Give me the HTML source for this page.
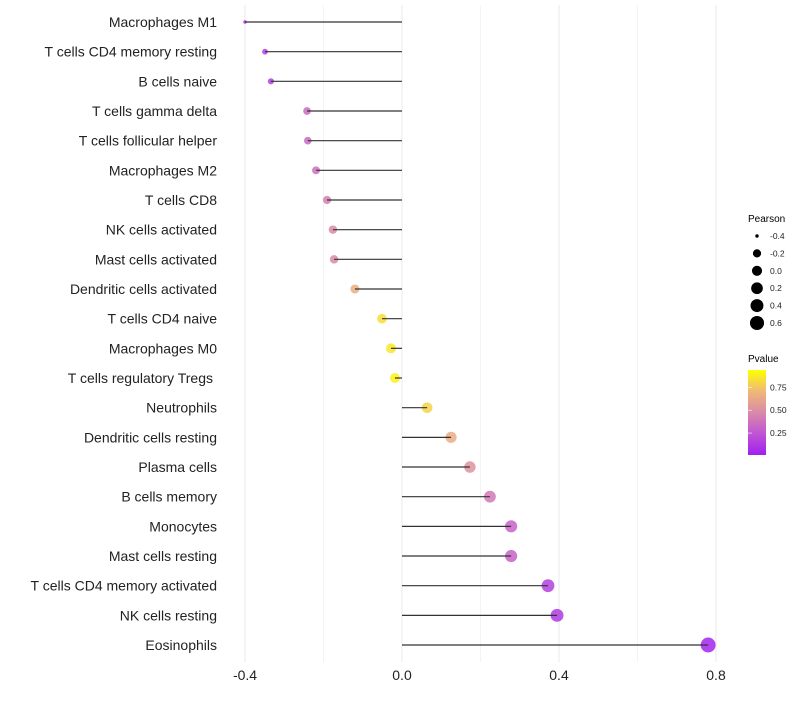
<!DOCTYPE html>
<html><head><meta charset="utf-8"><style>
body{margin:0;background:#fff}
svg text{font-family:"Liberation Sans",sans-serif}
</style></head><body>
<svg id="chart" width="800" height="700" xmlns="http://www.w3.org/2000/svg">
<defs><linearGradient id="pg" x1="0" y1="1" x2="0" y2="0">
<stop offset="0" stop-color="#a020f0"/><stop offset="0.25" stop-color="#c054d4"/><stop offset="0.5" stop-color="#d98aa8"/><stop offset="0.75" stop-color="#f0b878"/><stop offset="1" stop-color="#ffff00"/>
</linearGradient></defs>
<g id="grid"></g><g id="points"></g><g id="stems"></g><g id="labels"></g>
<g id="sizeleg">
<text x="748" y="222" font-size="10">Pearson</text>
</g>
<g>
<text x="748" y="362" font-size="10">Pvalue</text>
<rect x="748" y="370" width="18" height="85" fill="url(#pg)"/>
<g id="cbticks"></g>
</g>
</svg>
<script>
const categories=["Macrophages M1","T cells CD4 memory resting","B cells naive","T cells gamma delta","T cells follicular helper","Macrophages M2","T cells CD8","NK cells activated","Mast cells activated","Dendritic cells activated","T cells CD4 naive","Macrophages M0","T cells regulatory  Tregs","Neutrophils","Dendritic cells resting","Plasma cells","B cells memory","Monocytes","Mast cells resting","T cells CD4 memory activated","NK cells resting","Eosinophils"];
const pearson=[-0.40,-0.349,-0.334,-0.242,-0.24,-0.219,-0.191,-0.176,-0.173,-0.12,-0.051,-0.028,-0.018,0.064,0.125,0.173,0.224,0.278,0.278,0.372,0.395,0.78];
const pvalues=[0.05,0.15,0.15,0.35,0.35,0.38,0.45,0.5,0.5,0.7,0.88,0.92,0.95,0.85,0.68,0.55,0.42,0.32,0.32,0.15,0.12,0.02];
const xTicks=[-0.4,0.0,0.4,0.8];
const xMinor=[-0.2,0.2,0.6];
const sizeLegend=[-0.4,-0.2,0.0,0.2,0.4,0.6];
const pTicks=[0.25,0.5,0.75];
const NS="http://www.w3.org/2000/svg";
const x=v=>402+v*392.5;
const y=i=>22+i*29.667;
const pMin=Math.min(...pearson),pMax=Math.max(...pearson);
const r=v=>1.7+5.8*Math.sqrt(Math.max(0,(v-pMin)/(pMax-pMin)));
const stops=[[0,[160,32,240]],[0.25,[192,84,212]],[0.5,[217,138,168]],[0.75,[240,184,120]],[1,[255,255,0]]];
function col(p){for(let i=0;i<stops.length-1;i++){const[a,ca]=stops[i],[b,cb]=stops[i+1];if(p<=b){const t=(p-a)/(b-a);return`rgb(${ca.map((c,k)=>Math.round(c+(cb[k]-c)*t)).join(",")})`;}}return"#ff0";}
function mk(tag,at,parent){const e=document.createElementNS(NS,tag);for(const k in at)e.setAttribute(k,at[k]);parent.appendChild(e);return e;}
const grid=document.getElementById("grid"),points=document.getElementById("points"),stems=document.getElementById("stems"),labels=document.getElementById("labels");
xMinor.forEach(v=>{const l=mk("line",{x1:x(v),x2:x(v),y1:5,y2:662,stroke:"#f4f4f4","stroke-width":1},grid);

});
xTicks.forEach(v=>{const l=mk("line",{x1:x(v),x2:x(v),y1:5,y2:662,stroke:"#ededed","stroke-width":1.2},grid);


const t=mk("text",{x:x(v),y:680,"font-size":14,"text-anchor":"middle",fill:"#222"},labels);t.textContent=v.toFixed(1);

});
categories.forEach((c,i)=>{
const t=mk("text",{x:c.indexOf("Tregs")>=0?213:217,y:y(i)+5,"font-size":14,"text-anchor":"end",fill:"#222"},labels);t.textContent=c;


const d=mk("circle",{cx:x(pearson[i]),cy:y(i),r:r(pearson[i]),fill:col(pvalues[i]),"fill-opacity":0.85},points);


const l=mk("line",{x1:x(0),x2:x(pearson[i]),y1:y(i),y2:y(i),stroke:"#333","stroke-width":1.2},stems);


});
const sl=document.getElementById("sizeleg");
sizeLegend.forEach((v,i)=>{const yy=236+i*17.4;
const d=mk("circle",{cx:757,cy:yy,r:r(v),fill:"#000"},sl);


const t=mk("text",{x:770,y:yy+3,"font-size":8.5,fill:"#222"},sl);t.textContent=v.toFixed(1);

});
const cb=document.getElementById("cbticks");
pTicks.forEach(p=>{const yy=455-(p-0.01)/0.93*85;
const l=mk("line",{x1:748,x2:752,y1:yy,y2:yy,stroke:"#fff","stroke-width":0.6},cb);


const t=mk("text",{x:770,y:yy+3,"font-size":8.5,fill:"#222"},cb);t.textContent=p.toFixed(2);

});
</script>
</body></html>
